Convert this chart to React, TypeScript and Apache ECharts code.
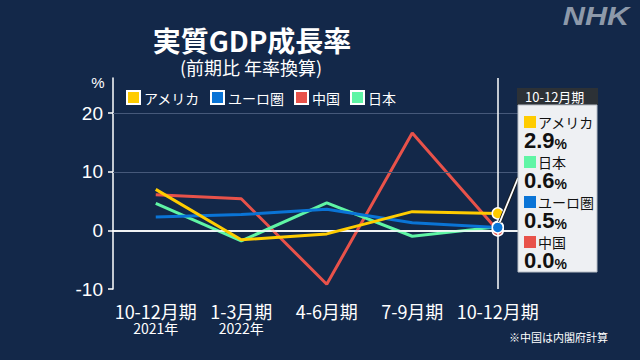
import React, { useEffect, useRef } from "react";
import * as echarts from "echarts";

const quarters = ["10-12月期", "1-3月期", "4-6月期", "7-9月期", "10-12月期"];
const years = ["2021年", "2022年", "", "", ""];
const usa = [7.0, -1.6, -0.6, 3.2, 2.9];
const euro = [2.3, 2.7, 3.6, 1.3, 0.5];
const china = [6.1, 5.4, -9.2, 16.6, 0.0];
const japan = [4.6, -1.8, 4.7, -1.0, 0.6];
const yTicks = [-10, 0, 10, 20];
const gridLines = [10, 20];

const seriesDefs = [
  { name: "中国", data: china, color: "#e8524a" },
  { name: "日本", data: japan, color: "#5ff5a5" },
  { name: "ユーロ圏", data: euro, color: "#0a74d6" },
  { name: "アメリカ", data: usa, color: "#ffcc00" },
];
const legendOrder = ["アメリカ", "ユーロ圏", "中国", "日本"];

const FONT = "'Noto Sans CJK JP', 'Noto Sans', sans-serif";
const BG = "#132849";

export default function App() {
  const ref = useRef<HTMLDivElement>(null);
  useEffect(() => {
    const chart = echarts.init(ref.current!, null, { renderer: "svg" });
    const last = quarters.length - 1;
    const series: any[] = seriesDefs.map((s, i) => ({
      type: "line",
      name: s.name,
      data: s.data,
      color: s.color,
      lineStyle: { width: 3, color: s.color },
      itemStyle: { color: s.color, borderColor: "#ffffff", borderWidth: 1.5 },
      symbol: "circle",
      showSymbol: true,
      symbolSize: (_v: any, p: any) => (p.dataIndex === last ? 11 : 0),
      z: 3 + i,
      emphasis: { disabled: true },
    }));
    series.unshift({
      type: "line",
      name: "_ref",
      data: [],
      silent: true,
      z: 1,
      markLine: {
        silent: true,
        symbol: "none",
        label: { show: false },
        animation: false,
        data: [
          ...gridLines.map((v) => ({ yAxis: v, lineStyle: { color: "#46597a", width: 1, type: "solid" } })),
          { yAxis: 0, lineStyle: { color: "#ffffff", width: 1.5, type: "solid" } },
          { xAxis: last, lineStyle: { color: "#ffffff", width: 1.5, type: "solid" } },
        ],
      },
    });

    const option: any = {
      backgroundColor: BG,
      animation: false,
      textStyle: { fontFamily: FONT },
      grid: { left: 113, right: 99.5, top: 78, bottom: 71 },
      legend: {
        data: legendOrder,
        left: 126,
        top: 90,
        padding: 0,
        icon: "rect",
        itemWidth: 13,
        itemHeight: 13,
        itemGap: 10,
        textStyle: { color: "#ffffff", fontSize: 14, fontFamily: FONT, padding: [0, 0, 0, -1] },
        selectedMode: false,
      },
      xAxis: [
        {
          type: "category",
          data: quarters,
          boundaryGap: true,
          axisLine: { lineStyle: { color: "#ffffff", width: 1.5 } },
          axisTick: { alignWithLabel: true, length: 5, lineStyle: { color: "#ffffff", width: 1.5 } },
          axisLabel: {
            interval: 0,
            margin: 12,
            color: "#ffffff",
            fontSize: 18,
            lineHeight: 20,
            fontFamily: FONT,
          },
        },
        {
          type: "category",
          data: years,
          position: "bottom",
          boundaryGap: true,
          axisLine: { show: false },
          axisTick: { show: false },
          splitLine: { show: false },
          axisLabel: {
            interval: 0,
            margin: 32,
            color: "#ffffff",
            fontSize: 14,
            lineHeight: 14,
            fontFamily: FONT,
          },
        },
      ],
      yAxis: {
        type: "value",
        min: -10,
        max: 26,
        interval: 10,
        splitLine: { show: false },
        axisLine: { show: true, lineStyle: { color: "#ffffff", width: 1.5 } },
        axisTick: { show: true, length: 5, customValues: yTicks, lineStyle: { color: "#ffffff", width: 1.5 } },
        axisLabel: {
          customValues: yTicks,
          margin: 10,
          color: "#ffffff",
          fontSize: 19,
          fontFamily: "'Liberation Sans', 'Noto Sans', sans-serif",
        },
      },
      series,
    };
    chart.setOption(option);

    // callout
    const rows = seriesDefs
      .map((s) => ({ name: s.name, color: s.color, v: s.data[last] }))
      .sort((a, b) => b.v - a.v);
    const euroPt = chart.convertToPixel({ xAxisIndex: 0, yAxisIndex: 0 }, [last, euro[last]]) as number[];
    const boxX = 518;
    const graphic: any[] = [
      {
        type: "text",
        style: { text: "実質GDP成長率", x: 252, y: 40, align: "center", verticalAlign: "middle", fill: "#ffffff", fontSize: 28, lineHeight: 28, fontWeight: "bold", fontFamily: FONT },
      },
      {
        type: "text",
        style: { text: "(前期比 年率換算)", x: 251, y: 67, align: "center", verticalAlign: "middle", fill: "#ffffff", fontSize: 18, lineHeight: 18, fontFamily: FONT },
      },
      {
        type: "text",
        style: { text: "%", x: 98, y: 82, align: "center", verticalAlign: "middle", fill: "#ffffff", fontSize: 15, fontFamily: "'Liberation Sans', sans-serif" },
      },
      {
        type: "text",
        x: 596,
        y: 16,
        scaleX: 1.18,
        style: { text: "NHK", x: 0, y: 0, align: "center", verticalAlign: "middle", fill: "#8d99aa", fontSize: 26, fontWeight: 900, fontStyle: "italic", fontFamily: "'Liberation Sans', 'DejaVu Sans', sans-serif" },
      },
      {
        type: "text",
        style: { text: "※中国は内閣府計算", x: 608, y: 337, align: "right", verticalAlign: "middle", fill: "#ffffff", fontSize: 11, fontFamily: FONT },
      },
      {
        type: "line",
        shape: { x1: euroPt[0] + 2, y1: euroPt[1] - 5, x2: boxX, y2: 178 },
        style: { stroke: "#1a1a1a", lineWidth: 3.5 },
        z: 10,
      },
      {
        type: "line",
        shape: { x1: euroPt[0] + 2, y1: euroPt[1] - 5, x2: boxX, y2: 178 },
        style: { stroke: "#ffffff", lineWidth: 1.8 },
        z: 11,
      },
      {
        type: "rect",
        shape: { x: boxX - 1, y: 88, width: 81, height: 17 },
        style: { fill: "#2c3136" },
        z: 12,
      },
      {
        type: "text",
        style: { text: quarters[last], x: boxX + 7, y: 96.5, verticalAlign: "middle", fill: "#ffffff", fontSize: 13, fontFamily: FONT },
        z: 13,
      },
      {
        type: "rect",
        shape: { x: boxX, y: 105, width: 79, height: 167 },
        style: { fill: "#eef0f3", stroke: "#b8bec6", lineWidth: 1 },
        z: 12,
      },
    ];
    rows.forEach((r, i) => {
      const base = 122 + i * 40;
      graphic.push(
        { type: "rect", shape: { x: boxX + 6, y: base - 6, width: 12, height: 12 }, style: { fill: r.color }, z: 13 },
        {
          type: "text",
          style: { text: r.name, x: boxX + 20, y: base, verticalAlign: "middle", fill: "#111111", fontSize: 14, lineHeight: 14, fontFamily: FONT },
          z: 13,
        },
        {
          type: "text",
          style: {
            text: `{v|${r.v.toFixed(1)}}{p|%}`,
            x: boxX + 6,
            y: base + 19,
            verticalAlign: "middle",
            rich: {
              v: { fontSize: 22, lineHeight: 20, fontWeight: "bold", fill: "#111111", fontFamily: "'Liberation Sans', 'Noto Sans', sans-serif", verticalAlign: "bottom" },
              p: { fontSize: 14, lineHeight: 20, fontWeight: "bold", fill: "#111111", fontFamily: "'Liberation Sans', 'Noto Sans', sans-serif", verticalAlign: "bottom" },
            },
          },
          z: 13,
        }
      );
    });
    chart.setOption({ graphic });
    return () => chart.dispose();
  }, []);
  return <div ref={ref} style={{ position: "fixed", left: 0, top: 0, width: 640, height: 360 }} />;
}
